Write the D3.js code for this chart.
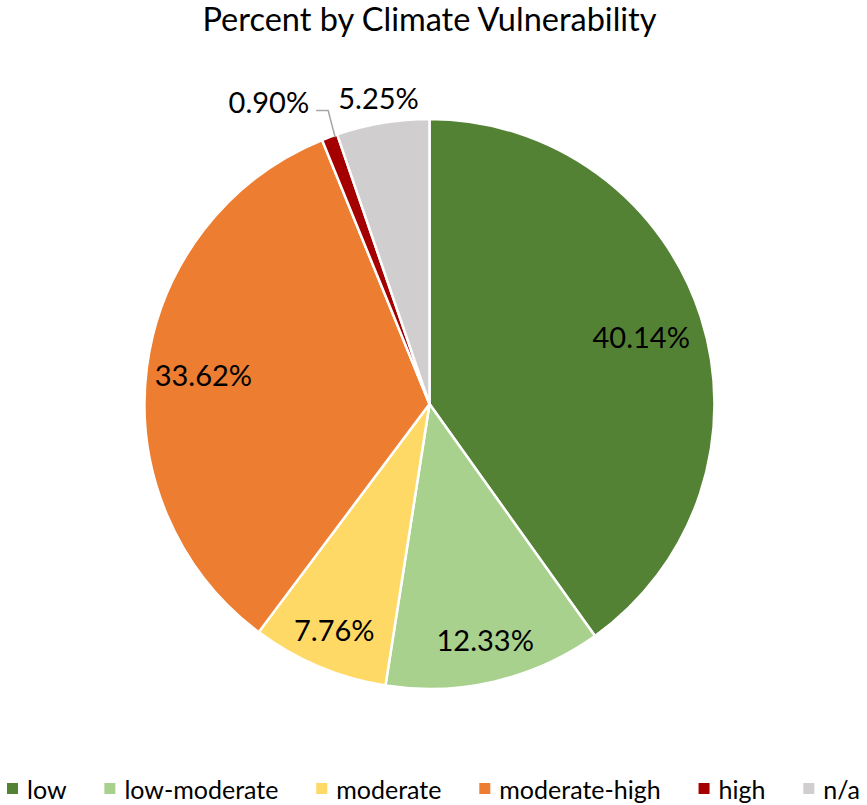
<!DOCTYPE html>
<html>
<head>
<meta charset="utf-8">
<script src="https://cdn.jsdelivr.net/npm/d3@7/dist/d3.min.js"></script>
<style>
  html, body { margin: 0; padding: 0; background: #fff; }
  svg { display: block; font-family: Lato, "Open Sans", sans-serif; }
</style>
</head>
<body>
<svg id="chart" width="867" height="805"></svg>
<script>
// Share of records by climate vulnerability class (percent)
const categories = ["low", "low-moderate", "moderate", "moderate-high", "high", "n/a"];
const percents = [40.14, 12.33, 7.76, 33.62, 0.90, 5.25];
const colors = ["#548235", "#A9D18E", "#FFD966", "#ED7D31", "#A50000", "#D0CECE"];
const chartTitle = "Percent by Climate Vulnerability";

const width = 867, height = 805;
const cx = 429.5, cy = 404, radius = 285;

const svg = d3.select("#chart");

svg.append("text")
  .attr("x", width / 2 - 4).attr("y", 31)
  .attr("text-anchor", "middle")
  .attr("font-size", 32.5)
  .attr("fill", "#000")
  .text(chartTitle);

const data = categories.map((c, i) => ({ category: c, value: percents[i], color: colors[i] }));

const pie = d3.pie().value(d => d.value).sort(null);
const arcs = pie(data);
const arc = d3.arc().innerRadius(0).outerRadius(radius);

const g = svg.append("g").attr("transform", `translate(${cx},${cy})`);

g.selectAll("path.slice")
  .data(arcs)
  .join("path")
  .attr("class", "slice")
  .attr("d", arc)
  .attr("fill", d => d.data.color)
  .attr("stroke", "#fff")
  .attr("stroke-width", 2.5)
  .attr("stroke-linejoin", "round");

// label distance from centre, as a fraction of the radius
const labelRadius = [0.78, 0.85, 0.86, 0.80, null, 1.09];
const fmt = v => v.toFixed(2) + "%";

arcs.forEach((a, i) => {
  if (labelRadius[i] == null) return;
  const r = radius * labelRadius[i];
  const c = d3.arc().innerRadius(r).outerRadius(r).centroid(a);
  g.append("text")
    .attr("x", c[0]).attr("y", c[1])
    .attr("text-anchor", "middle")
    .attr("dominant-baseline", "central")
    .attr("font-size", 29)
    .attr("fill", "#000")
    .text(fmt(a.data.value));
});

// small "high" slice: label pulled out to the left with a leader line
{
  const a = arcs[4];
  const ang = a.endAngle - 0.01;
  const tip = [Math.sin(ang) * (radius - 2), -Math.cos(ang) * (radius - 2)];
  const elbow = [tip[0] - 7, -radius - 8.5];
  const end = [elbow[0] - 12, elbow[1]];
  g.append("polyline")
    .attr("points", [tip, elbow, end].map(p => p.join(",")).join(" "))
    .attr("fill", "none")
    .attr("stroke", "#A6A6A6")
    .attr("stroke-width", 1.5);
  g.append("text")
    .attr("x", end[0] - 7).attr("y", elbow[1] - 9)
    .attr("text-anchor", "end")
    .attr("dominant-baseline", "central")
    .attr("font-size", 29)
    .attr("fill", "#000")
    .text(fmt(a.data.value));
}

// legend along the bottom, spread across the full width
const legendLeft = 7, legendRight = 860, swatchGap = 20;
const legend = svg.append("g").attr("transform", `translate(${legendLeft},789)`);
const items = legend.selectAll("g.item")
  .data(data)
  .join("g")
  .attr("class", "item");
items.append("rect").attr("x", 0).attr("y", -6).attr("width", 11).attr("height", 11).attr("fill", d => d.color);
items.append("text")
  .attr("x", swatchGap).attr("y", 0)
  .attr("dominant-baseline", "central")
  .attr("font-size", 25)
  .attr("fill", "#000")
  .text(d => d.category);
const widths = items.nodes().map(n => swatchGap + d3.select(n).select("text").node().getComputedTextLength());
const gap = (legendRight - legendLeft - d3.sum(widths)) / (widths.length - 1);
let x = 0;
items.each(function (d, i) {
  d3.select(this).attr("transform", `translate(${x},0)`);
  x += widths[i] + gap;
});
</script>
</body>
</html>
